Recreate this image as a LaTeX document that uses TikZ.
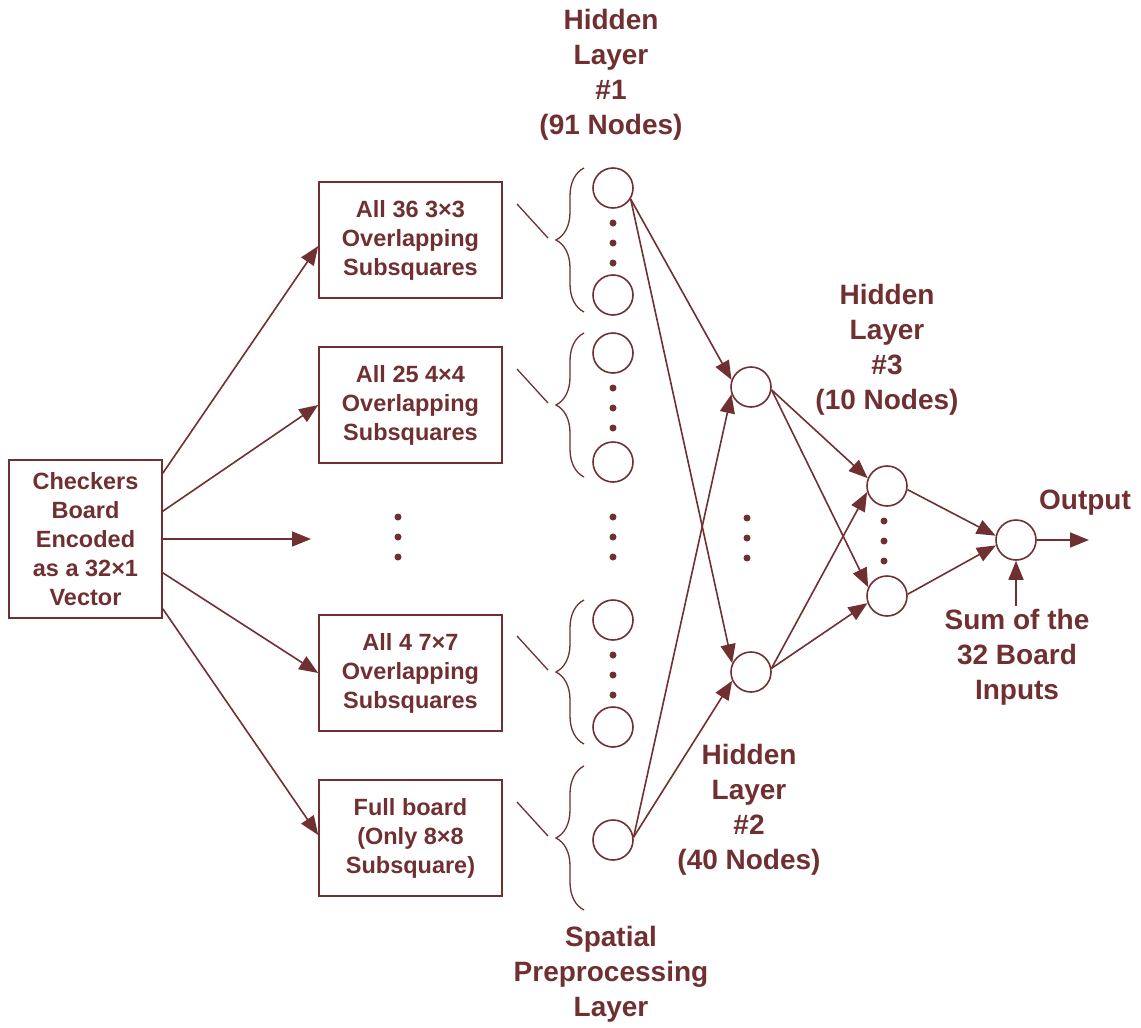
\documentclass[tikz,border=0pt]{standalone}
\usepackage{fontspec}
\setmainfont{Liberation Sans}
\usetikzlibrary{arrows.meta,decorations.pathreplacing,calc}
\definecolor{mar}{RGB}{112,48,50}
\newcommand\bxfont{\fontsize{23.5}{29}\selectfont\bfseries}
\newcommand\ttlfont{\fontsize{28}{35}\selectfont\bfseries}
\begin{document}
\begin{tikzpicture}[x=1pt,y=-1pt,
  ln/.style={draw=mar, line width=1.6pt},
  arr/.style={ln, -{Triangle[length=19pt,width=15pt]}},
  box/.style={draw=mar, line width=1.6pt, minimum width=183pt, minimum height=116pt, inner sep=0pt, align=center, text=mar, font=\bxfont},
  neuron/.style={circle, draw=mar, line width=1.6pt, minimum size=40pt, inner sep=0pt},
  ttl/.style={text=mar, align=center, font=\ttlfont},
  brc/.style={draw=mar, line width=1.3pt, decorate, decoration={brace, amplitude=28pt, aspect=0.5}},
  tick/.style={draw=mar, line width=1.3pt}
]
\useasboundingbox (0,0) rectangle (1141,1028);

% input box
\node[box, minimum width=153pt, minimum height=158pt] (in) at (85.5,539) {Checkers\\Board\\Encoded\\as a 32\texttimes1\\Vector};

% preprocessing boxes
\node[box] (b1) at (410.5,240) {All 36 3\texttimes3\\Overlapping\\Subsquares};
\node[box] (b2) at (410.5,405) {All 25 4\texttimes4\\Overlapping\\Subsquares};
\node[box] (b3) at (410.5,673) {All 4 7\texttimes7\\Overlapping\\Subsquares};
\node[box] (b4) at (410.5,838) {Full board\\(Only 8\texttimes8\\Subsquare)};
\coordinate (mid) at (311,539);

% arrows from input
\draw[arr] ($(in.north east)+(0,14)$) -- ($(b1.west)+(0,6)$);
\draw[arr] ($(in.north east)+(0,52)$) -- (b2.west);
\draw[arr] (in.east) -- (mid);
\draw[arr] ($(in.south east)+(0,-46)$) -- (b3.west);
\draw[arr] ($(in.south east)+(0,-10)$) -- ($(b4.west)+(0,-3)$);

% middle dots column
\foreach \y in {517,537,557} \fill[mar] (398,\y) circle (3.5pt);

% braces and ticks
\foreach \c in {240,405,672,838} {
  \draw[brc] (584,\c+72) -- (584,\c-72);
  \draw[tick] (517,\c-36) -- (548,\c-2);
}

% hidden layer 1
\node[neuron] (h1a) at (613,188) {};
\node[neuron] (h1b) at (613,295) {};
\node[neuron] (h1c) at (613,353) {};
\node[neuron] (h1d) at (613,462) {};
\node[neuron] (h1e) at (613,620) {};
\node[neuron] (h1f) at (613,727) {};
\node[neuron] (h1g) at (613,840) {};
\foreach \y in {223,243,263, 388,408,428, 517,537,557, 655,675,695} \fill[mar] (613,\y) circle (3.5pt);

% hidden layer 2
\node[neuron] (h2a) at (751,387) {};
\node[neuron] (h2b) at (751,672) {};
\foreach \y in {518,538,558} \fill[mar] (747,\y) circle (3.5pt);

% hidden layer 3
\node[neuron] (h3a) at (887,486) {};
\node[neuron] (h3b) at (887,596) {};
\foreach \y in {521,541,561} \fill[mar] (884,\y) circle (3.5pt);

% output
\node[neuron] (out) at (1016,540) {};
\coordinate (outend) at (1089,540);
\coordinate (sumstart) at (1016,606);

% connections
\draw[arr] (h1a.-32) -- (h2a.160);
\draw[arr] (h1a.-32) -- (h2b.155);
\draw[arr] (h1g.8) -- (h2a.200);
\draw[arr] (h1g.8) -- (h2b.205);
\draw[arr] (h2a.-8) -- (h3a.158);
\draw[arr] (h2a.-8) -- (h3b.155);
\draw[arr] (h2b.10) -- (h3a.197);
\draw[arr] (h2b.10) -- (h3b.200);
\draw[arr] (h3a.-10) -- (out.168);
\draw[arr] (h3b.5) -- (out.195);
\draw[arr] (out) -- (outend);
\draw[arr] (sumstart) -- (out);

% labels
\node[ttl] (t1) at (611,75) {Hidden\\Layer\\\#1\\(91 Nodes)};
\node[ttl] (t3) at (887,350) {Hidden\\Layer\\\#3\\(10 Nodes)};
\node[ttl] (t2) at (749,810) {Hidden\\Layer\\\#2\\(40 Nodes)};
\node[ttl] (tsp) at (611,974) {Spatial\\Preprocessing\\Layer};
\node[ttl] (tout) at (1085,503) {Output};
\node[ttl] (tsum) at (1017,657) {Sum of the\\32 Board\\Inputs};
\end{tikzpicture}
\end{document}
